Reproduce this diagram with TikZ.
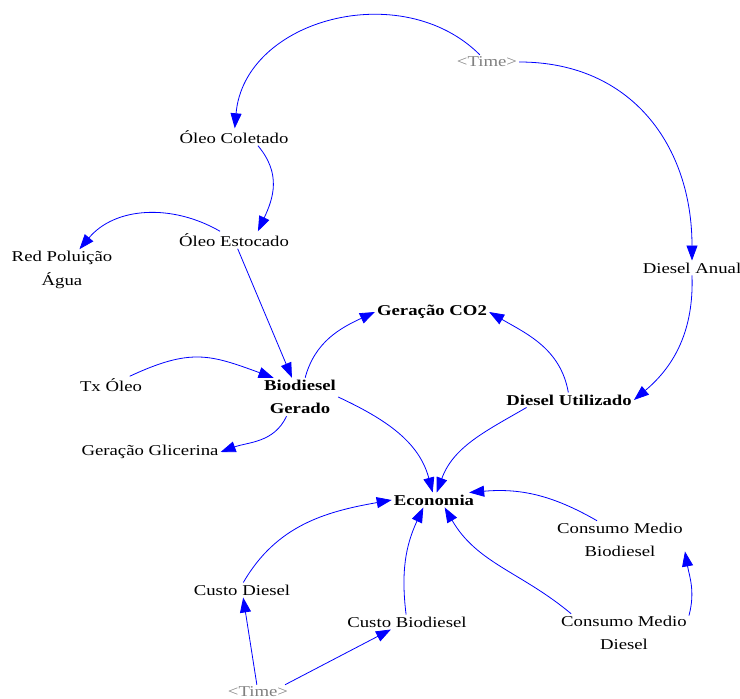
\documentclass[tikz,border=0pt]{standalone}
\usepackage{fontspec}
\setmainfont{Liberation Serif}[FakeStretch=1.25]
\usetikzlibrary{arrows.meta}
\definecolor{VsBlue}{HTML}{0000FF}
\definecolor{VsGray}{HTML}{808080}
\tikzset{
  vsvar/.style={
    font=\fontsize{15}{23.5}\selectfont,
    align=center,
    inner sep=2pt
  },
  vskey/.style={
    vsvar,
    font=\fontsize{15}{23.5}\selectfont\bfseries
  },
  vsshadow/.style={
    vsvar,
    text=VsGray
  },
  vsarrow/.style={-{Triangle[length=15pt,width=11pt]},line width=0.8pt,draw=VsBlue}
}
\begin{document}
\begin{tikzpicture}[x=1pt,y=1pt]
    \useasboundingbox (0,0) rectangle (740,699);
    \node[vsshadow] (timetop) at (487,637) {\textless Time\textgreater};
    \node[vsvar] (oleocol) at (234,562) {Óleo Coletado};
    \node[vsvar] (oleoest) at (234,459) {Óleo Estocado};
    \node[vsvar] (redpol) at (62,429) {Red Poluição\\Água};
    \node[vsvar] (dieselan) at (692,431) {Diesel Anual};
    \node[vskey] (co2) at (432,387) {Geração CO2};
    \node[vsvar] (txoleo) at (111,314) {Tx Óleo};
    \node[vskey] (biogerado) at (300,302) {Biodiesel\\Gerado};
    \node[vskey] (dieselut) at (569,299) {Diesel Utilizado};
    \node[vsvar] (glicerina) at (150,247) {Geração Glicerina};
    \node[vskey] (economia) at (434,199) {Economia};
    \node[vsvar] (cmbio) at (620,159) {Consumo Medio\\Biodiesel};
    \node[vsvar] (custodiesel) at (242,109) {Custo Diesel};
    \node[vsvar] (custobio) at (407,77) {Custo Biodiesel};
    \node[vsvar] (cmdiesel) at (624,66) {Consumo Medio\\Diesel};
    \node[vsshadow] (timebot) at (258,7) {\textless Time\textgreater};
    \draw[vsarrow] (timetop.135) to[out=135,in=85,looseness=1.1] (oleocol.85);
    \draw[vsarrow] (timetop.east) to[out=0,in=90,looseness=1.1] (dieselan.north);
    \draw[vsarrow] (oleocol.-20) to[out=-50,in=65,looseness=1.1] (oleoest.20);
    \draw[vsarrow] (oleoest.148) to[out=150,in=50] (redpol.50);
    \draw[vsarrow] (oleoest) -- (biogerado);
    \draw[vsarrow] (txoleo.25) to[out=25,in=160,looseness=1.2] (biogerado.144);
    \draw[vsarrow] (biogerado.-125) to[out=-115,in=20] (glicerina.east);
    \draw[vsarrow] (biogerado.75) to[out=75,in=205] (co2.west);
    \draw[vsarrow] (dieselut.95) to[out=100,in=-30] (co2.east);
    \draw[vsarrow] (dieselan.south) to[out=-88,in=40] (dieselut.east);
    \draw[vsarrow] (biogerado.east) to[out=-25,in=105] (economia.100);
    \draw[vsarrow] (dieselut.-170) to[out=-150,in=70] (economia.70);
    \draw[vsarrow] (custodiesel.80) to[out=60,in=190] (economia.west);
    \draw[vsarrow] (custobio.97) to[out=97,in=-115] (economia.-145);
    \draw[vsarrow] (cmdiesel.160) to[out=140,in=-60] (economia.-35);
    \draw[vsarrow] (cmbio.140) to[out=150,in=5] (economia.12);
    \draw[vsarrow] (cmdiesel.15) to[out=75,in=-80] (cmbio.-10);
    \draw[vsarrow] (timebot) -- (custodiesel);
    \draw[vsarrow] (timebot.15) -- (custobio.205);
  \end{tikzpicture}
\end{document}
